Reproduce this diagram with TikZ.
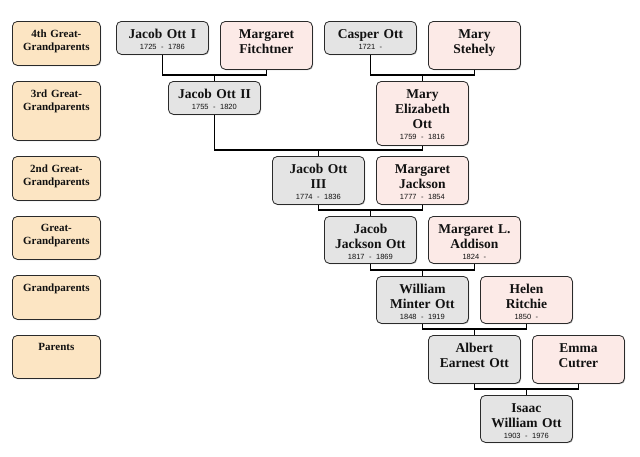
\documentclass[tikz,border=0pt]{standalone}
\usepackage{fontspec}
\setmainfont{Liberation Serif}
\newfontfamily\datefam{Liberation Sans}
\usetikzlibrary{shadows}
\definecolor{maleC}{HTML}{E4E4E4}
\definecolor{femC}{HTML}{FCEAE7}
\definecolor{genC}{HTML}{FCE5C3}
\definecolor{edgeC}{HTML}{2A2A2A}
\definecolor{txtC}{HTML}{111111}
\tikzset{
  box/.style={draw=edgeC, line width=0.8pt, rounded corners=5pt, minimum width=92pt,
    inner sep=0pt, anchor=north west,
    drop shadow={shadow xshift=0.8pt, shadow yshift=-0.8pt, opacity=0.3, fill=black}},
  male/.style={box, fill=maleC},
  fem/.style={box, fill=femC},
  gen/.style={box, fill=genC, minimum width=88pt},
  nametxt/.style={anchor=north, inner sep=0pt, text width=90pt, align=center, text=txtC,
    font=\fontsize{13.5}{15}\selectfont\bfseries, yshift=-8pt},
  gentxt/.style={anchor=north, inner sep=0pt, text width=86pt, align=center, text=txtC,
    font=\fontsize{11}{13}\selectfont\bfseries, yshift=-8.5pt},
  conn/.style={draw=black, line width=1.1pt},
}
\newcommand{\dt}[1]{\\[-4pt]{\datefam\fontsize{7.5}{9}\selectfont\mdseries #1}}
\newcommand{\person}[6]{%
  \node[#1, minimum height=#5pt] (#2) at (#3,#4) {};
  \node[nametxt] (#2t) at (#2.north) {#6};}
\newcommand{\genbox}[5]{%
  \node[gen, minimum height=#3pt] (#1) at (12,#2) {};
  \node[gentxt] (#1t) at (#1.north) {#4\\#5};}
\begin{document}
\begin{tikzpicture}[x=1pt, y=-1pt]
\fill[white] (0,0) rectangle (640,456);
\useasboundingbox (0,0) rectangle (640,456);

% generation labels
\genbox{g1}{21}{44}{4th Great-}{Grandparents}
\genbox{g2}{81}{59}{3rd Great-}{Grandparents}
\genbox{g3}{156}{44}{2nd Great-}{Grandparents}
\genbox{g4}{216}{43}{Great-}{Grandparents}
\genbox{g5}{275}{44}{Grandparents}{}
\genbox{g6}{335}{43}{Parents}{}

% persons
\person{male}{jo1}{116}{21}{33}{Jacob Ott I\dt{1725 - 1786}}
\person{fem}{mf}{220}{21}{48}{Margaret\\Fitchtner}
\person{male}{co}{324}{21}{33}{Casper Ott\dt{1721 -}}
\person{fem}{ms}{428}{21}{48}{Mary\\Stehely}
\person{male}{jo2}{168}{81}{33}{Jacob Ott II\dt{1755 - 1820}}
\person{fem}{meo}{376}{81}{64}{Mary\\Elizabeth\\Ott\dt{1759 - 1816}}
\person{male}{jo3}{272}{156}{48}{Jacob Ott\\III\dt{1774 - 1836}}
\person{fem}{mj}{376}{156}{48}{Margaret\\Jackson\dt{1777 - 1854}}
\person{male}{jjo}{324}{216}{47}{Jacob\\Jackson Ott\dt{1817 - 1869}}
\person{fem}{mla}{428}{216}{47}{Margaret L.\\Addison\dt{1824 -}}
\person{male}{wmo}{376}{276}{47}{William\\Minter Ott\dt{1848 - 1919}}
\person{fem}{hr}{480}{276}{47}{Helen\\Ritchie\dt{1850 -}}
\person{male}{aeo}{428}{335}{48}{Albert\\Earnest Ott}
\person{fem}{ec}{532}{335}{48}{Emma\\Cutrer}
\person{male}{iwo}{480}{395}{47}{Isaac\\William Ott\dt{1903 - 1976}}

% connectors
\coordinate (b1) at ([yshift=6pt]jo2.north);
\draw[conn] (jo1.south) |- (b1) -| (mf.south);
\draw[conn] (b1) -- (jo2.north);
\coordinate (b1b) at ([yshift=6pt]meo.north);
\draw[conn] (co.south) |- (b1b) -| (ms.south);
\draw[conn] (b1b) -- (meo.north);
\coordinate (b2) at ([yshift=6pt]jo3.north);
\draw[conn] (jo2.south) |- (b2) -| (meo.south);
\draw[conn] (b2) -- (jo3.north);
\coordinate (b3) at ([yshift=6pt]jjo.north);
\draw[conn] (jo3.south) |- (b3) -| (mj.south);
\draw[conn] (b3) -- (jjo.north);
\coordinate (b4) at ([yshift=6pt]wmo.north);
\draw[conn] (jjo.south) |- (b4) -| (mla.south);
\draw[conn] (b4) -- (wmo.north);
\coordinate (b5) at ([yshift=6pt]aeo.north);
\draw[conn] (wmo.south) |- (b5) -| (hr.south);
\draw[conn] (b5) -- (aeo.north);
\coordinate (b6) at ([yshift=6pt]iwo.north);
\draw[conn] (aeo.south) |- (b6) -| (ec.south);
\draw[conn] (b6) -- (iwo.north);
\end{tikzpicture}
\end{document}
